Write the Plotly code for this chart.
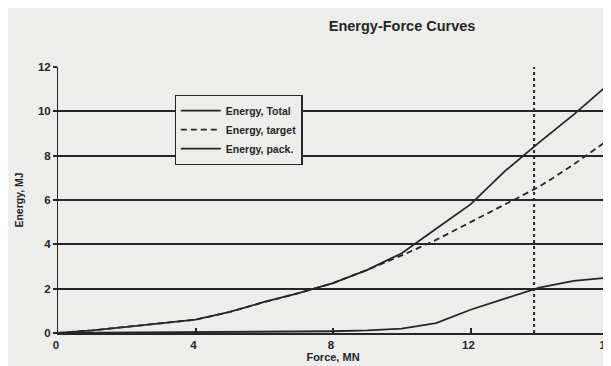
import plotly.graph_objects as go

force = [0, 1, 2, 3, 4, 5, 6, 7, 8, 9, 10, 11, 12, 13, 14, 15, 16]
energy_total = [0, 0.12, 0.28, 0.44, 0.6, 0.95, 1.4, 1.8, 2.25, 2.85, 3.6, 4.7, 5.8, 7.3, 8.6, 9.85, 11.2]
energy_target = [0, 0.12, 0.28, 0.44, 0.6, 0.95, 1.4, 1.8, 2.25, 2.85, 3.5, 4.2, 5.0, 5.8, 6.6, 7.6, 8.7]
energy_pack = [0, 0.01, 0.02, 0.02, 0.03, 0.04, 0.05, 0.06, 0.08, 0.12, 0.2, 0.45, 1.05, 1.55, 2.05, 2.35, 2.5]
marker_force = 13.85
y_span = [0, 12]
x_ticks = [0, 4, 8, 12, 16]
y_ticks = [0, 2, 4, 6, 8, 10, 12]

ink = "#262626"
bg = "#ededeb"
font = "Liberation Sans, Arial, sans-serif"

fig = go.Figure()
fig.add_trace(go.Scatter(x=force, y=energy_total, mode="lines", name="Energy, Total",
                         line=dict(color=ink, width=1.8)))
fig.add_trace(go.Scatter(x=force, y=energy_target, mode="lines", name="Energy, target",
                         line=dict(color=ink, width=1.8, dash="6px,4px")))
fig.add_trace(go.Scatter(x=force, y=energy_pack, mode="lines", name="Energy, pack.",
                         line=dict(color=ink, width=1.8)))
fig.add_trace(go.Scatter(x=[marker_force, marker_force], y=y_span, mode="lines", showlegend=False,
                         line=dict(color=ink, width=2, dash="3px,3px")))

fig.update_layout(
    width=611, height=366,
    margin=dict(l=50, r=7, t=59, b=41),
    paper_bgcolor=bg, plot_bgcolor=bg,
    font=dict(family=font, color=ink, size=10),
    title=dict(text="Energy-Force Curves", x=0.645, xanchor="center", xref="container",
               y=0.951, yanchor="middle", yref="container",
               font=dict(size=14.5, color=ink, weight="bold")),
    legend=dict(x=0.212, y=0.895, xanchor="left", yanchor="top", bgcolor=bg,
                bordercolor=ink, borderwidth=1.2,
                font=dict(size=10.5, color=ink, weight="bold"),
                tracegroupgap=0, itemwidth=40),
    showlegend=True,
)
fig.update_xaxes(range=[0, 16], tickvals=x_ticks, showgrid=False, zeroline=False,
                 showline=True, linecolor=ink, linewidth=1.8, ticks="inside", ticklen=5,
                 tickwidth=1.5, tickcolor=ink, tickfont=dict(size=11.5, weight="bold"),
                 ticklabeloverflow="allow", ticklabelshift=-2,
                 title=dict(text="Force, MN", font=dict(size=11, weight="bold"), standoff=1))
fig.update_yaxes(range=[0, 12], tickvals=y_ticks, showgrid=True, gridcolor=ink,
                 gridwidth=1.5, zeroline=False, showline=True, linecolor=ink, linewidth=1,
                 ticks="outside", ticklen=4, tickwidth=1.5,
                 tickcolor=ink, tickfont=dict(size=11.5, weight="bold"),
                 title=dict(text="Energy, MJ", font=dict(size=10.5, weight="bold"), standoff=12))
fig.write_html("out.html")
